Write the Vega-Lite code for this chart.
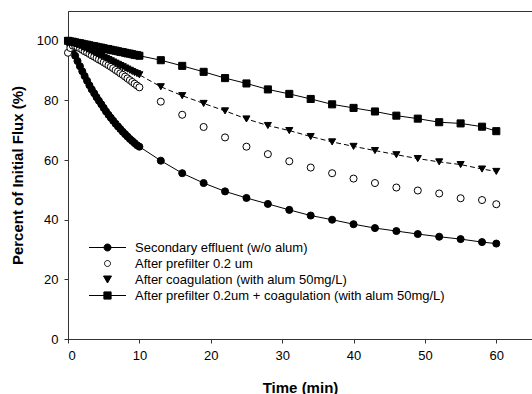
{
  "$schema": "https://vega.github.io/schema/vega-lite/v6.json",
  "width": 464,
  "height": 328,
  "autosize": {"type": "none"},
  "padding": {"left": 68, "top": 11, "right": 0, "bottom": 55},
  "background": "white",
  "config": {
    "font": "Liberation Sans",
    "view": {"stroke": "#333", "strokeWidth": 1},
    "axis": {
      "domainColor": "#333",
      "tickColor": "#333",
      "tickSize": 4,
      "labelColor": "black",
      "labelFontSize": 13,
      "labelFont": "Liberation Sans",
      "titleFont": "Liberation Sans",
      "titleFontSize": 15,
      "titleFontWeight": "bold",
      "titleColor": "black",
      "grid": false
    },
    "legend": {
      "title": null,
      "orient": "none",
      "legendX": 33,
      "legendY": 230,
      "padding": 0,
      "rowPadding": 2.0,
      "labelOffset": 21,
      "symbolSize": 100,
      "symbolStrokeWidth": 1,
      "labelFontSize": 13,
      "labelFont": "Liberation Sans",
      "labelColor": "black",
      "labelLimit": 400
    }
  },
  "data": {
    "values": [
      {"t": 0, "s": "a", "v": 100}, {"t": 0.33, "s": "a", "v": 98.5}, {"t": 0.67, "s": "a", "v": 96.8}, {"t": 1, "s": "a", "v": 95.0},
      {"t": 1.33, "s": "a", "v": 93.2}, {"t": 1.67, "s": "a", "v": 91.5}, {"t": 2, "s": "a", "v": 89.8}, {"t": 2.33, "s": "a", "v": 88.2},
      {"t": 2.67, "s": "a", "v": 86.6}, {"t": 3, "s": "a", "v": 85.1}, {"t": 3.33, "s": "a", "v": 83.7}, {"t": 3.67, "s": "a", "v": 82.4},
      {"t": 4, "s": "a", "v": 81.1}, {"t": 4.33, "s": "a", "v": 79.9}, {"t": 4.67, "s": "a", "v": 78.7}, {"t": 5, "s": "a", "v": 77.5},
      {"t": 5.33, "s": "a", "v": 76.3}, {"t": 5.67, "s": "a", "v": 75.2}, {"t": 6, "s": "a", "v": 74.2}, {"t": 6.33, "s": "a", "v": 73.2},
      {"t": 6.67, "s": "a", "v": 72.2}, {"t": 7, "s": "a", "v": 71.3}, {"t": 7.33, "s": "a", "v": 70.4}, {"t": 7.67, "s": "a", "v": 69.5},
      {"t": 8, "s": "a", "v": 68.7}, {"t": 8.33, "s": "a", "v": 67.9}, {"t": 8.67, "s": "a", "v": 67.1}, {"t": 9, "s": "a", "v": 66.4},
      {"t": 9.33, "s": "a", "v": 65.7}, {"t": 9.67, "s": "a", "v": 65.0}, {"t": 10, "s": "a", "v": 64.5},
      {"t": 13, "s": "a", "v": 59.8}, {"t": 16, "s": "a", "v": 55.6}, {"t": 19, "s": "a", "v": 52.3}, {"t": 22, "s": "a", "v": 49.5},
      {"t": 25, "s": "a", "v": 47.3}, {"t": 28, "s": "a", "v": 45.3}, {"t": 31, "s": "a", "v": 43.3}, {"t": 34, "s": "a", "v": 41.4},
      {"t": 37, "s": "a", "v": 40.0}, {"t": 40, "s": "a", "v": 38.5}, {"t": 43, "s": "a", "v": 37.2}, {"t": 46, "s": "a", "v": 36.2},
      {"t": 49, "s": "a", "v": 35.2}, {"t": 52, "s": "a", "v": 34.3}, {"t": 55, "s": "a", "v": 33.5}, {"t": 58, "s": "a", "v": 32.5},
      {"t": 60, "s": "a", "v": 32.0},

      {"t": 0, "s": "b", "v": 96.0}, {"t": 0.33, "s": "b", "v": 97.6}, {"t": 0.67, "s": "b", "v": 98.4}, {"t": 1, "s": "b", "v": 98.3},
      {"t": 1.33, "s": "b", "v": 97.9}, {"t": 1.67, "s": "b", "v": 97.5}, {"t": 2, "s": "b", "v": 97.0}, {"t": 2.33, "s": "b", "v": 96.5},
      {"t": 2.67, "s": "b", "v": 96.1}, {"t": 3, "s": "b", "v": 95.6}, {"t": 3.33, "s": "b", "v": 95.1}, {"t": 3.67, "s": "b", "v": 94.7},
      {"t": 4, "s": "b", "v": 94.2}, {"t": 4.33, "s": "b", "v": 93.7}, {"t": 4.67, "s": "b", "v": 93.3}, {"t": 5, "s": "b", "v": 92.8},
      {"t": 5.33, "s": "b", "v": 92.3}, {"t": 5.67, "s": "b", "v": 91.8}, {"t": 6, "s": "b", "v": 91.3}, {"t": 6.33, "s": "b", "v": 90.8},
      {"t": 6.67, "s": "b", "v": 90.2}, {"t": 7, "s": "b", "v": 89.7}, {"t": 7.33, "s": "b", "v": 89.1}, {"t": 7.67, "s": "b", "v": 88.6},
      {"t": 8, "s": "b", "v": 88.0}, {"t": 8.33, "s": "b", "v": 87.4}, {"t": 8.67, "s": "b", "v": 86.8}, {"t": 9, "s": "b", "v": 86.2},
      {"t": 9.33, "s": "b", "v": 85.6}, {"t": 9.67, "s": "b", "v": 85.0}, {"t": 10, "s": "b", "v": 84.4},
      {"t": 13, "s": "b", "v": 79.6}, {"t": 16, "s": "b", "v": 75.2}, {"t": 19, "s": "b", "v": 71.1}, {"t": 22, "s": "b", "v": 67.6},
      {"t": 25, "s": "b", "v": 64.5}, {"t": 28, "s": "b", "v": 62.0}, {"t": 31, "s": "b", "v": 59.6}, {"t": 34, "s": "b", "v": 57.5},
      {"t": 37, "s": "b", "v": 55.6}, {"t": 40, "s": "b", "v": 53.8}, {"t": 43, "s": "b", "v": 52.3}, {"t": 46, "s": "b", "v": 50.8},
      {"t": 49, "s": "b", "v": 49.8}, {"t": 52, "s": "b", "v": 48.8}, {"t": 55, "s": "b", "v": 47.2}, {"t": 58, "s": "b", "v": 46.6},
      {"t": 60, "s": "b", "v": 45.2},

      {"t": 0, "s": "c", "v": 100}, {"t": 0.33, "s": "c", "v": 99.7}, {"t": 0.67, "s": "c", "v": 99.4}, {"t": 1, "s": "c", "v": 99.0},
      {"t": 1.33, "s": "c", "v": 98.6}, {"t": 1.67, "s": "c", "v": 98.3}, {"t": 2, "s": "c", "v": 97.9}, {"t": 2.33, "s": "c", "v": 97.5},
      {"t": 2.67, "s": "c", "v": 97.2}, {"t": 3, "s": "c", "v": 96.8}, {"t": 3.33, "s": "c", "v": 96.4}, {"t": 3.67, "s": "c", "v": 96.0},
      {"t": 4, "s": "c", "v": 95.6}, {"t": 4.33, "s": "c", "v": 95.2}, {"t": 4.67, "s": "c", "v": 94.9}, {"t": 5, "s": "c", "v": 94.5},
      {"t": 5.33, "s": "c", "v": 94.1}, {"t": 5.67, "s": "c", "v": 93.7}, {"t": 6, "s": "c", "v": 93.3}, {"t": 6.33, "s": "c", "v": 92.9},
      {"t": 6.67, "s": "c", "v": 92.5}, {"t": 7, "s": "c", "v": 92.1}, {"t": 7.33, "s": "c", "v": 91.7}, {"t": 7.67, "s": "c", "v": 91.3},
      {"t": 8, "s": "c", "v": 90.9}, {"t": 8.33, "s": "c", "v": 90.5}, {"t": 8.67, "s": "c", "v": 90.1}, {"t": 9, "s": "c", "v": 89.7},
      {"t": 9.33, "s": "c", "v": 89.3}, {"t": 9.67, "s": "c", "v": 89.0}, {"t": 10, "s": "c", "v": 88.6},
      {"t": 13, "s": "c", "v": 84.6}, {"t": 16, "s": "c", "v": 81.6}, {"t": 19, "s": "c", "v": 79.0}, {"t": 22, "s": "c", "v": 76.5},
      {"t": 25, "s": "c", "v": 73.8}, {"t": 28, "s": "c", "v": 71.6}, {"t": 31, "s": "c", "v": 69.9}, {"t": 34, "s": "c", "v": 67.9},
      {"t": 37, "s": "c", "v": 66.1}, {"t": 40, "s": "c", "v": 64.6}, {"t": 43, "s": "c", "v": 63.2}, {"t": 46, "s": "c", "v": 61.8},
      {"t": 49, "s": "c", "v": 60.5}, {"t": 52, "s": "c", "v": 59.4}, {"t": 55, "s": "c", "v": 58.5}, {"t": 58, "s": "c", "v": 57.0},
      {"t": 60, "s": "c", "v": 56.2},

      {"t": 0, "s": "d", "v": 100}, {"t": 0.33, "s": "d", "v": 99.8}, {"t": 0.67, "s": "d", "v": 99.7}, {"t": 1, "s": "d", "v": 99.5},
      {"t": 1.33, "s": "d", "v": 99.3}, {"t": 1.67, "s": "d", "v": 99.2}, {"t": 2, "s": "d", "v": 99.0}, {"t": 2.33, "s": "d", "v": 98.8},
      {"t": 2.67, "s": "d", "v": 98.7}, {"t": 3, "s": "d", "v": 98.5}, {"t": 3.33, "s": "d", "v": 98.3}, {"t": 3.67, "s": "d", "v": 98.2},
      {"t": 4, "s": "d", "v": 98.0}, {"t": 4.33, "s": "d", "v": 97.8}, {"t": 4.67, "s": "d", "v": 97.7}, {"t": 5, "s": "d", "v": 97.5},
      {"t": 5.33, "s": "d", "v": 97.3}, {"t": 5.67, "s": "d", "v": 97.2}, {"t": 6, "s": "d", "v": 97.0}, {"t": 6.33, "s": "d", "v": 96.8},
      {"t": 6.67, "s": "d", "v": 96.7}, {"t": 7, "s": "d", "v": 96.5}, {"t": 7.33, "s": "d", "v": 96.3}, {"t": 7.67, "s": "d", "v": 96.2},
      {"t": 8, "s": "d", "v": 96.0}, {"t": 8.33, "s": "d", "v": 95.8}, {"t": 8.67, "s": "d", "v": 95.7}, {"t": 9, "s": "d", "v": 95.5},
      {"t": 9.33, "s": "d", "v": 95.3}, {"t": 9.67, "s": "d", "v": 95.2}, {"t": 10, "s": "d", "v": 95.0},
      {"t": 13, "s": "d", "v": 93.5}, {"t": 16, "s": "d", "v": 91.6}, {"t": 19, "s": "d", "v": 89.6}, {"t": 22, "s": "d", "v": 87.5},
      {"t": 25, "s": "d", "v": 85.7}, {"t": 28, "s": "d", "v": 83.7}, {"t": 31, "s": "d", "v": 82.2}, {"t": 34, "s": "d", "v": 80.5},
      {"t": 37, "s": "d", "v": 78.7}, {"t": 40, "s": "d", "v": 77.5}, {"t": 43, "s": "d", "v": 76.3}, {"t": 46, "s": "d", "v": 74.9},
      {"t": 49, "s": "d", "v": 73.9}, {"t": 52, "s": "d", "v": 72.7}, {"t": 55, "s": "d", "v": 72.3}, {"t": 58, "s": "d", "v": 71.2},
      {"t": 60, "s": "d", "v": 69.7}
    ]
  },
  "encoding": {
    "x": {
      "field": "t", "type": "quantitative",
      "scale": {"domain": [0, 65], "nice": false, "zero": false},
      "axis": {"title": "Time (min)", "values": [0, 10, 20, 30, 40, 50, 60], "titlePadding": 18, "labelPadding": 6}
    },
    "y": {
      "field": "v", "type": "quantitative",
      "scale": {"domain": [0, 110], "nice": false},
      "axis": {"title": "Percent of Initial Flux (%)", "values": [0, 20, 40, 60, 80, 100], "titlePadding": 11, "labelPadding": 6}
    }
  },
  "layer": [
    {
      "transform": [{"filter": "datum.s == 'a' || datum.s == 'd'"}],
      "mark": {"type": "line", "color": "black", "strokeWidth": 1},
      "encoding": {"detail": {"field": "s"}}
    },
    {
      "transform": [{"filter": "datum.s == 'c'"}],
      "mark": {"type": "line", "color": "black", "strokeWidth": 1, "strokeDash": [5, 3]},
      "encoding": {}
    },
    {
      "mark": {"type": "point", "filled": false, "stroke": "black", "strokeWidth": 1, "opacity": 1, "size": 50},
      "encoding": {
        "shape": {
          "field": "s", "type": "nominal",
          "scale": {"domain": ["a", "b", "c", "d"], "range": ["circle", "circle", "triangle-down", "square"]},
          "legend": null
        },
        "fill": {
          "field": "s", "type": "nominal",
          "scale": {"domain": ["a", "b", "c", "d"], "range": ["black", "white", "black", "black"]},
          "legend": null
        }
      }
    },
    {
      "transform": [{"filter": "datum.t < 0"}],
      "mark": {"type": "point", "filled": false, "strokeWidth": 1, "opacity": 1},
      "encoding": {
        "shape": {
          "field": "s", "type": "nominal",
          "scale": {"domain": ["a", "b", "c", "d"], "range": [
            "M-3.7,0L3.7,0M-0.7,0A0.7,0.7 0 1,0 0.7,0A0.7,0.7 0 1,0 -0.7,0Z",
            "M-0.6,0A0.6,0.6 0 1,0 0.6,0A0.6,0.6 0 1,0 -0.6,0Z",
            "M-0.8,-0.7L0.8,-0.7L0,0.7Z",
            "M-3.7,0L3.7,0M-0.72,-0.72L0.72,-0.72L0.72,0.72L-0.72,0.72Z"
          ]},
          "legend": {
            "labelExpr": "datum.value == 'a' ? 'Secondary effluent (w/o alum)' : datum.value == 'b' ? 'After prefilter 0.2 um' : datum.value == 'c' ? 'After coagulation (with alum 50mg/L)' : 'After prefilter 0.2um + coagulation (with alum 50mg/L)'"
          }
        },
        "fill": {
          "field": "s", "type": "nominal",
          "scale": {"domain": ["a", "b", "c", "d"], "range": ["black", "white", "black", "black"]},
          "legend": {
            "labelExpr": "datum.value == 'a' ? 'Secondary effluent (w/o alum)' : datum.value == 'b' ? 'After prefilter 0.2 um' : datum.value == 'c' ? 'After coagulation (with alum 50mg/L)' : 'After prefilter 0.2um + coagulation (with alum 50mg/L)'"
          }
        },
        "stroke": {
          "field": "s", "type": "nominal",
          "scale": {"domain": ["a", "b", "c", "d"], "range": ["black", "black", "black", "black"]},
          "legend": {
            "labelExpr": "datum.value == 'a' ? 'Secondary effluent (w/o alum)' : datum.value == 'b' ? 'After prefilter 0.2 um' : datum.value == 'c' ? 'After coagulation (with alum 50mg/L)' : 'After prefilter 0.2um + coagulation (with alum 50mg/L)'"
          }
        }
      }
    }
  ],
  "resolve": {"scale": {"shape": "independent", "fill": "independent", "stroke": "independent"}}
}
